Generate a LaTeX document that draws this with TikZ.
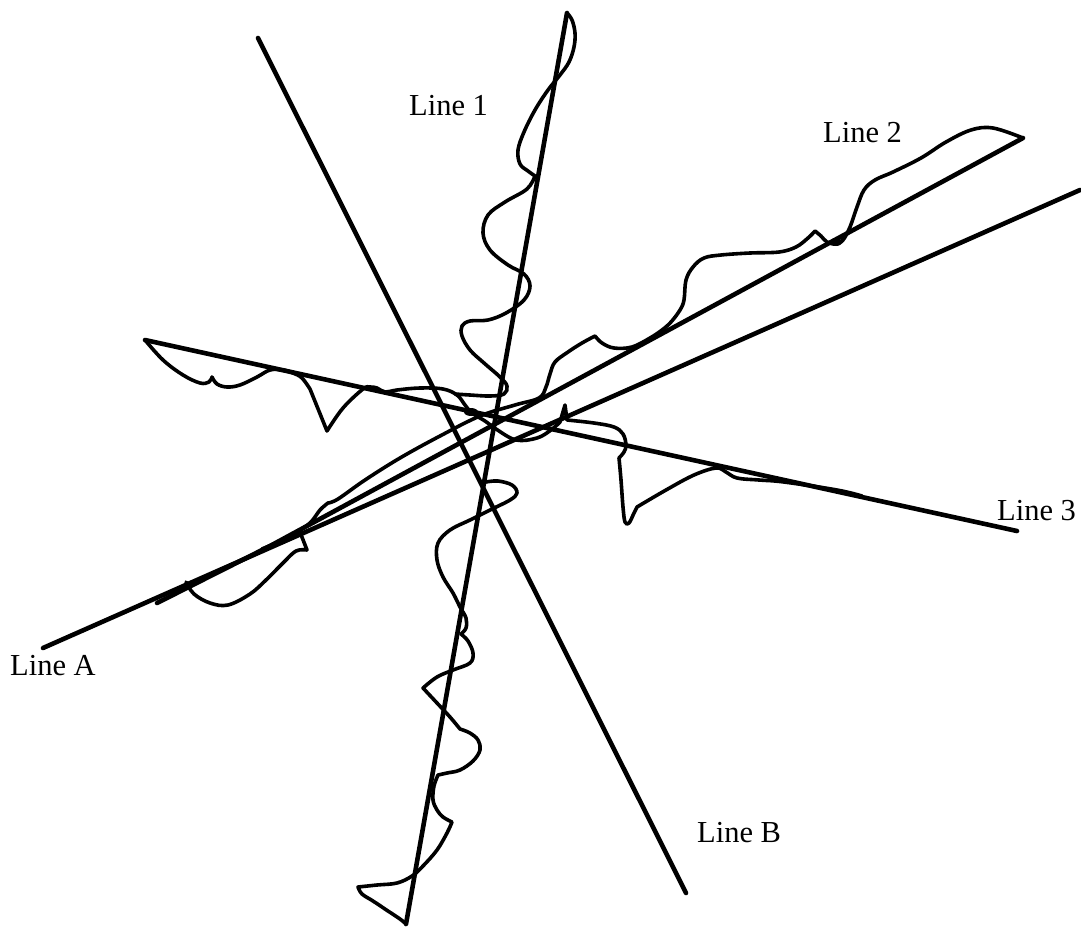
\documentclass[tikz,border=0pt]{standalone}
\usepackage{fontspec}
\setmainfont{Liberation Serif}
\newcommand\lblfont{\fontsize{30.5}{36}\selectfont}
\tikzset{
  axisline/.style={line width=4.6pt, line cap=round},
  wig/.style={line width=3.6pt, line join=round, line cap=round},
  lbl/.style={anchor=base west, inner sep=0pt, font=\lblfont}
}
\begin{document}
\begin{tikzpicture}[x=1pt,y=-1pt]
\fill[white] (0,0) rectangle (1081,930);
\useasboundingbox (0,0) rectangle (1081,930);
% end points of the straight lines
\coordinate (A1) at (43,648);   \coordinate (A2) at (1080,190);
\coordinate (B1) at (258,38);   \coordinate (B2) at (686,893);
\coordinate (P1) at (567,13);   \coordinate (Q1) at (406,924);
\coordinate (P2) at (1023,138); \coordinate (M2) at (270,546); \coordinate (Q2) at (157,603);
\coordinate (P3) at (145,340);  \coordinate (Q3) at (1017,531);
% straight lines
\draw[axisline] (A1) -- (A2);
\draw[axisline] (B1) -- (B2);
\draw[axisline] (P1) -- (Q1);
\draw[axisline] (P2) -- (M2) -- (Q2);
\draw[axisline] (P3) -- (Q3);
% Line 1 profile
\draw[wig] plot[smooth,tension=0.6] coordinates {(567,13) (572,20) (575,33) (574,47) (569,62) (560,75) (548,90) (535,110) (524,132) (518,150) (520,164) (528,171) (535,176)}
  -- plot[smooth,tension=0.6] coordinates {(535,176) (527,189) (505,202) (488,215) (483,233) (490,250) (508,265) (524,274) (530,286) (524,300) (506,313) (488,320) (470,321) (462,326) (462,336) (470,350) (484,363) (500,377) (507,386) (504,394) (490,396) (470,395) (455,394)};
\draw[wig] plot[smooth,tension=0.6] coordinates {(486,482) (498,481) (512,485) (517,493) (510,500) (490,510) (470,520) (450,530) (438,543) (437,560) (443,577) (453,593) (460,607) (466,618) (466,628) (461,634)}
  -- plot[smooth,tension=0.6] coordinates {(461,634) (468,641) (473,653) (470,663) (453,670) (437,677) (423,688)}
  -- plot[smooth,tension=0.6] coordinates {(423,688) (437,703) (450,717) (460,729)}
  -- plot[smooth,tension=0.6] coordinates {(460,729) (470,733) (478,740) (480,750) (473,761) (460,770) (447,773) (438,775)}
  -- plot[smooth,tension=0.6] coordinates {(438,775) (434,786) (433,800) (437,810) (443,817) (452,822)}
  -- plot[smooth,tension=0.6] coordinates {(452,822) (447,833) (437,850) (423,866) (412,876) (397,883) (377,885) (358,887)}
  -- plot[smooth,tension=0.6] coordinates {(358,887) (362,894) (373,901) (388,911) (400,919) (406,924)};
% Line 2 profile
\draw[wig] plot[smooth,tension=0.6] coordinates {(1023,138) (993,128) (971,130) (946,142) (921,158) (893,172) (875,180) (864,190) (857,207) (850,227) (843,240) (836,244) (827,242) (821,236) (815,231)}
  -- plot[smooth,tension=0.6] coordinates {(815,231) (808,238) (796,247) (779,252) (750,253) (721,255) (704,258) (693,267) (686,280) (684,300) (680,310) (671,322) (662,330) (650,338) (632,347) (614,348) (602,343) (595,336)}
  -- plot[smooth,tension=0.6] coordinates {(595,336) (582,343) (568,352) (555,362) (550,374) (546,387) (539,398) (515,405) (480,416) (440,436) (400,458) (365,480) (338,499) (328,503)}
  -- plot[smooth,tension=0.6] coordinates {(328,503) (320,510) (310,523) (295,533) (280,541) (262,549)};
\draw[wig] (300,532) -- (307,550) plot[smooth,tension=0.6] coordinates {(307,550) (296,551) (283,563) (266,580) (250,594) (228,605) (210,603) (194,594) (186,582)};
\fill (836,242) ellipse[x radius=6pt, y radius=4pt];
% Line 3 profile
\draw[wig] plot[smooth,tension=0.6] coordinates {(145,340) (163,360) (183,375) (200,383) (209,382) (212,377)}
  -- plot[smooth,tension=0.6] coordinates {(212,377) (217,384) (227,387) (240,385) (257,377) (270,370) (283,370) (293,373) (302,378) (310,389)}
  -- (327,431)
  -- plot[smooth,tension=0.6] coordinates {(327,431) (343,408) (363,389) (370,387) (377,388) (385,392) (397,390) (420,388) (443,389) (457,395) (465,405) (472,413) (485,421) (496,429) (516,440) (537,438) (551,430) (560,422)}
  -- (565,405) -- (567,420)
  -- plot[smooth,tension=0.6] coordinates {(567,420) (594,423) (614,427) (623,434) (626,445) (624,452) (619,458)}
  -- plot[smooth,tension=0.6] coordinates {(619,458) (621,480) (623,507) (625,522) (629,523) (634,513) (637,507)}
  -- plot[smooth,tension=0.6] coordinates {(637,507) (666,490) (694,475) (716,468) (726,472) (737,478) (759,480) (784,482) (837,490) (862,496)};
\fill (471,412) ellipse[x radius=7pt, y radius=4pt];
% labels
\node[lbl] (lab1) at (409,115) {Line 1};
\node[lbl] (lab2) at (823,142) {Line 2};
\node[lbl] (lab3) at (997,520) {Line 3};
\node[lbl] (labA) at (10,675) {Line A};
\node[lbl] (labB) at (697,842) {Line B};
\end{tikzpicture}
\end{document}
